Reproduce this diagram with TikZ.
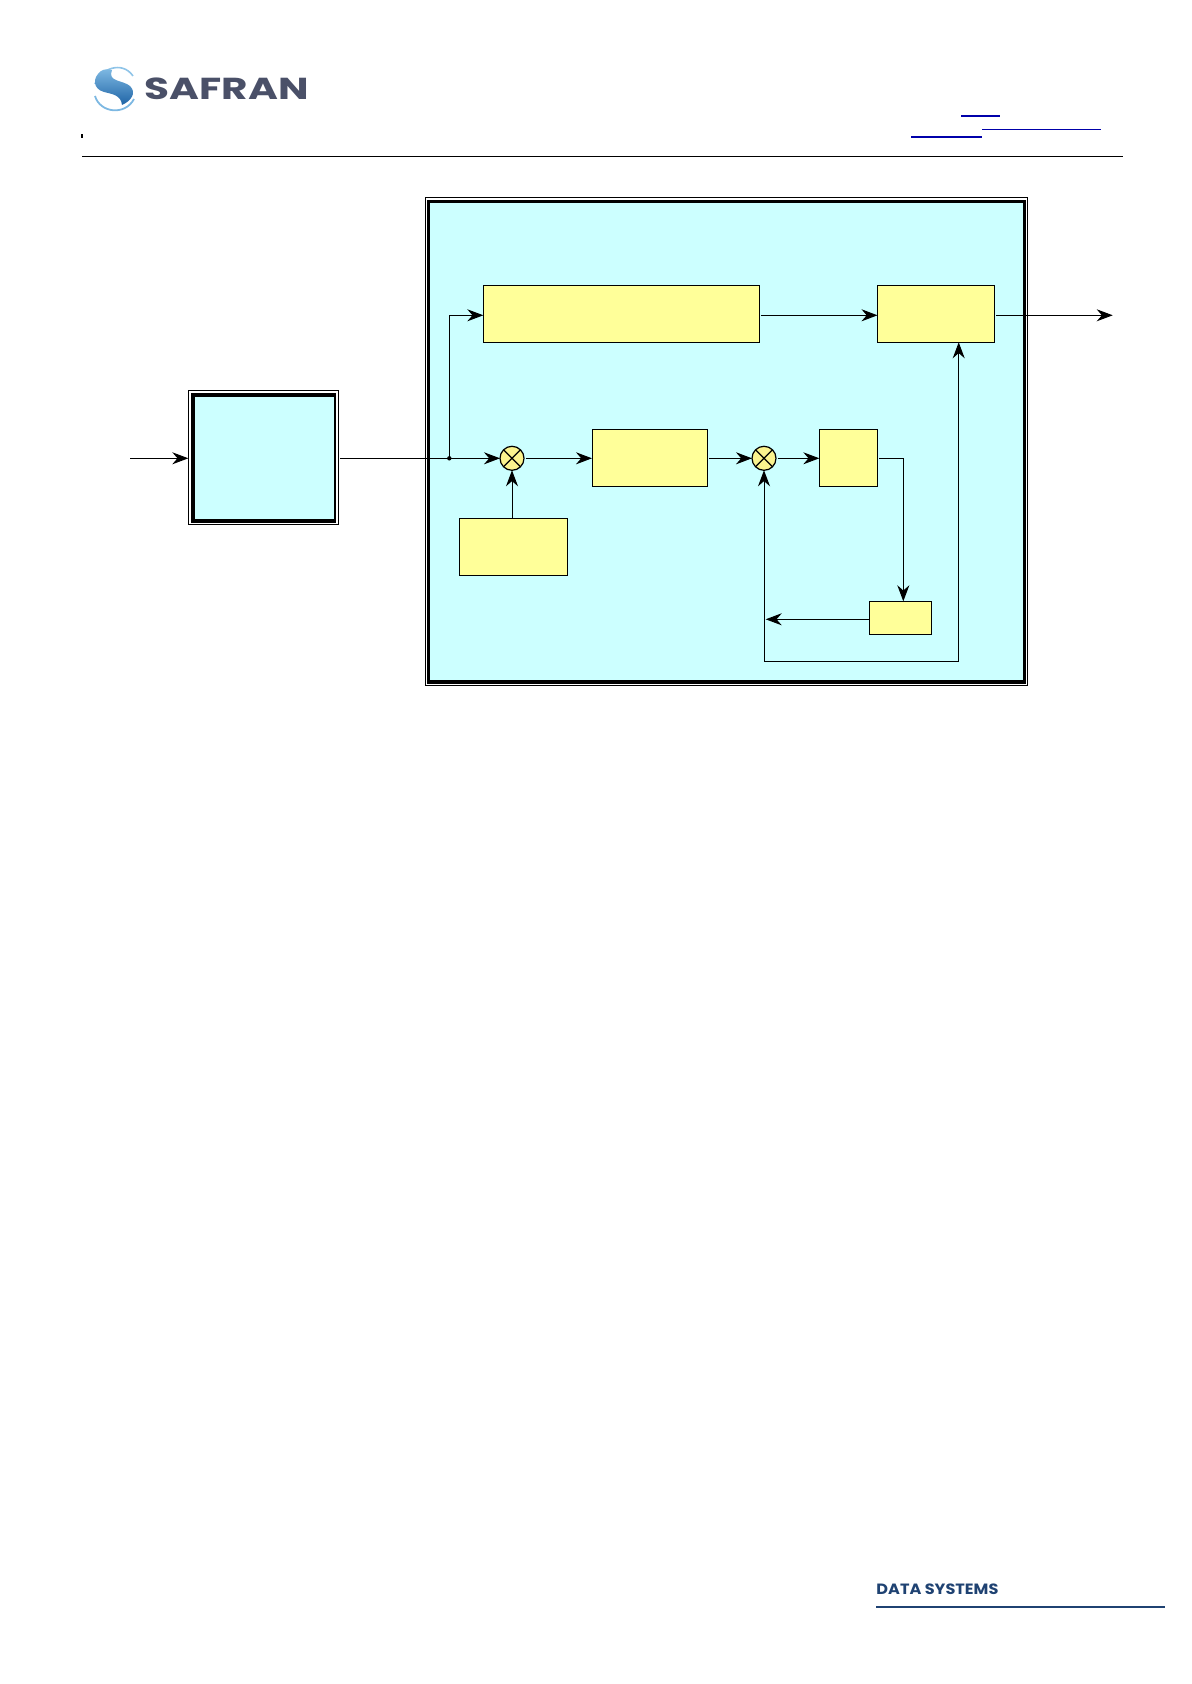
\documentclass[tikz,border=0pt]{standalone}
\usepackage{fontspec}
\usetikzlibrary{arrows.meta}
\newfontfamily\logofont{Poppins}
\definecolor{paleblue}{HTML}{CCFFFF}
\definecolor{paleyellow}{HTML}{FFFF99}
\definecolor{mixfill}{HTML}{FBF38E}
\definecolor{linkblue}{HTML}{0000AA}
\definecolor{logogrey}{HTML}{4A5068}
\definecolor{footnavy}{HTML}{1F4272}
\definecolor{swooshlight}{HTML}{8FC4E8}
\definecolor{swooshmid}{HTML}{7DB8E2}
\definecolor{swooshdark}{HTML}{1F64A6}
\tikzset{
  x=0.5pt,y=-0.5pt,
  conn/.style={draw=black,line width=0.5pt,-{Stealth[length=8pt,width=6pt,inset=2.6pt]}},
  plain/.style={draw=black,line width=0.5pt},
  yellowbox/.style={draw=black,line width=0.5pt,fill=paleyellow,inner sep=0pt,outer sep=0pt,anchor=north west},
  mixer/.style={draw=black,line width=0.6pt,fill=mixfill,circle,inner sep=0pt,outer sep=0pt,minimum size=12pt,
    path picture={\draw[line width=0.6pt] (path picture bounding box.north west) -- (path picture bounding box.south east)
      (path picture bounding box.north east) -- (path picture bounding box.south west);}},
  thinframe/.style={draw=black,line width=0.5pt},
}
\begin{document}
\begin{tikzpicture}
\useasboundingbox (0,0) rectangle (1191,1684);
% header
\draw[line width=0.55pt] (82,156.3) -- (1122.7,156.3);
\fill[black] (81,134) rectangle (83,138);
\draw[linkblue,line width=1pt] (961,115.7) -- (1000,115.7);
\draw[linkblue,line width=0.5pt] (982,129.3) -- (1101,129.3);
\draw[linkblue,line width=1pt] (911,137) -- (982,137);
% logo
\draw[swooshlight,line width=0.8pt] (95,84) .. controls (100,69) and (122,60) .. (133,76);
\draw[swooshmid,line width=0.9pt] (95,96) .. controls (100,113) and (125,116) .. (134,99);
\shade[left color=swooshmid,right color=swooshdark,shading angle=0]
  (101,71) .. controls (92,78) and (93,89) .. (104,92)
  .. controls (112,94) and (121,95) .. (122,105)
  .. controls (131,101) and (137,93) .. (130,86)
  .. controls (123,80) and (107,82) .. (112,70)
  .. controls (108,69) and (104,69) .. (101,71) -- cycle;
\node[anchor=base west,inner sep=0pt,text=logogrey] (logotext) at (144.5,99.3)
  {\resizebox{82pt}{10.8pt}{\logofont\bfseries SAFRAN}};
% footer
\node[anchor=base west,inner sep=0pt,text=footnavy] (foottext) at (876,1594)
  {\resizebox{61pt}{5.3pt}{\logofont\bfseries DATA SYSTEMS}};
\draw[footnavy,line width=0.75pt] (876,1607) -- (1165,1607);
% left frame
\draw[thinframe] (188.8,391) rectangle (338.3,524);
\fill[black] (191,393.3) rectangle (336.3,522.7);
\fill[paleblue] (195,396.7) rectangle (334,519.3);
% big frame
\draw[thinframe] (425,197.2) rectangle (1027.5,685.2);
\fill[black] (427,199.6) rectangle (1025.7,683.5);
\fill[paleblue] (430,203) rectangle (1023,680);
% boxes
\node[yellowbox,minimum width=138pt,minimum height=28.5pt] (filt) at (483.3,285.3) {};
\node[yellowbox,minimum width=58.5pt,minimum height=28.5pt] (outb) at (877.5,285.3) {};
\node[yellowbox,minimum width=54pt,minimum height=28.5pt] (lowb) at (459.3,518.3) {};
\node[yellowbox,minimum width=57.7pt,minimum height=28.5pt] (midb) at (592,429.3) {};
\node[yellowbox,minimum width=29.2pt,minimum height=28.5pt] (gain) at (819.3,429.3) {};
\node[yellowbox,minimum width=31.2pt,minimum height=16.5pt] (fb) at (869.3,601.3) {};
\node[mixer] (m1) at (512,458.3) {};
\node[mixer] (m2) at (764,458.3) {};
% free ends
\coordinate (rowA) at (0,315.3);
\coordinate (rowB) at (0,458.3);
\coordinate (inp) at (130,458.3);
\coordinate (leftin) at (188.3,458.3);
\coordinate (leftout) at (340,458.3);
\coordinate (jun) at (449.3,458.3);
\coordinate (outend) at (1112.7,315.3);
\coordinate (fbin) at (765.7,619.3);
\coordinate (corner1) at (958.7,661.3);
\coordinate (corner2) at (764,661.3);
\coordinate (turn) at (903.3,458.3);
% connectors
\draw[conn] (inp) -- (leftin);
\draw[plain] (leftout) -- (jun);
\draw[conn] (jun) -- (m1.west);
\fill (jun) circle[radius=2.2];
\draw[conn] (jun) |- (filt.west |- rowA);
\draw[conn] (lowb.north -| m1) -- (m1.south);
\draw[conn] ([xshift=0.8pt]m1.east) -- (midb.west |- rowB);
\draw[conn] ([xshift=1pt]midb.east |- rowB) -- (m2.west);
\draw[conn] ([xshift=0.8pt]m2.east) -- (gain.west |- rowB);
\draw[plain] ([xshift=0.8pt]gain.east |- rowB) -- (turn);
\draw[conn] (turn) -- (turn |- fb.north);
\draw[conn] (fb.west |- fbin) -- (fbin);
\draw[conn] ([xshift=0.8pt]filt.east |- rowA) -- (outb.west |- rowA);
\draw[conn] ([xshift=0.8pt]outb.east |- rowA) -- (outend);
\draw[plain] (corner1) -- (corner2);
\draw[conn] (corner2) -- (m2.south);
\draw[conn] (corner1) -- (corner1 |- outb.south);
\end{tikzpicture}
\end{document}
